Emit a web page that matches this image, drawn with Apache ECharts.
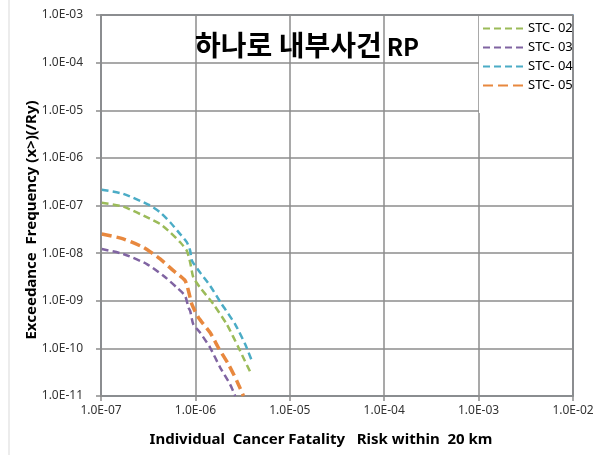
<!DOCTYPE html>
<html>
<head>
<meta charset="utf-8">
<script src="https://cdn.jsdelivr.net/npm/echarts@6/dist/echarts.min.js"></script>
<style>
  html, body { margin: 0; padding: 0; background: #fff; }
  #chart { width: 604px; height: 455px; }
</style>
</head>
<body>
<div id="chart"></div>
<script>
// series names
var seriesNames = ['STC- 02', 'STC- 03', 'STC- 04', 'STC- 05'];

// risk (x) and exceedance frequency (y)
var stc02X = [1.02e-7, 1.72e-7, 3.31e-7, 4.23e-7, 5.4e-7, 6.9e-7, 8.1e-7, 8.8e-7, 9.5e-7, 1.12e-6, 1.55e-6, 2.15e-6, 2.86e-6, 3.9e-6];
var stc02Y = [1.14e-7, 9.5e-8, 5.25e-8, 4.1e-8, 2.74e-8, 1.69e-8, 1.13e-8, 6.4e-9, 3.1e-9, 1.9e-9, 8.5e-10, 3.2e-10, 1.04e-10, 2.9e-11];

var stc03X = [1.02e-7, 1.72e-7, 3.06e-7, 4.58e-7, 6.35e-7, 7.78e-7, 8.44e-7, 8.8e-7, 9.5e-7, 1.12e-6, 1.43e-6, 1.83e-6, 2.33e-6, 2.64e-6];
var stc03Y = [1.22e-8, 9.6e-9, 5.9e-9, 3.36e-9, 1.9e-9, 1.27e-9, 7.2e-10, 6.15e-10, 3.2e-10, 2.15e-10, 1.04e-10, 3.95e-11, 1.76e-11, 1.0e-11];

var stc04X = [1.02e-7, 1.72e-7, 3.31e-7, 4.23e-7, 5.4e-7, 6.9e-7, 8.1e-7, 8.8e-7, 9.2e-7, 1.12e-6, 1.43e-6, 1.9e-6, 2.64e-6, 3.37e-6, 3.96e-6];
var stc04Y = [2.14e-7, 1.76e-7, 1.0e-7, 7.2e-8, 4.45e-8, 2.5e-8, 1.7e-8, 1.13e-8, 6.95e-9, 3.94e-9, 2.07e-9, 8.5e-10, 3.2e-10, 1.22e-10, 5.5e-11];

var stc05X = [1.02e-7, 1.72e-7, 2.81e-7, 4.23e-7, 5.85e-7, 7.78e-7, 8.44e-7, 9.16e-7, 1.076e-6, 1.43e-6, 1.75e-6, 2.24e-6, 2.75e-6, 3.23e-6];
var stc05Y = [2.53e-8, 1.99e-8, 1.32e-8, 7.55e-9, 4.28e-9, 2.64e-9, 1.62e-9, 8.5e-10, 4.45e-10, 2.15e-10, 1.04e-10, 4.65e-11, 2.07e-11, 1.0e-11];

var colors = ['#9BBB59', '#8064A2', '#4BACC6', '#E8883E'];

function pairs(xs, ys) {
    var out = [];
    for (var i = 0; i < xs.length; i++) out.push([xs[i], ys[i]]);
    return out;
}

function sciLabel(v) {
    var e = Math.round(Math.log10(v));
    var s = Math.abs(e) < 10 ? '0' + Math.abs(e) : '' + Math.abs(e);
    return '1.0E' + (e < 0 ? '-' : '+') + s;
}

var gridColor = '#8c8c8c';
var labelFont = 'Noto Sans';

var myChart = echarts.init(document.getElementById('chart'), null, { renderer: 'canvas' });

function lineSeries(name, data, color, width, dash) {
    return {
        name: name,
        type: 'line',
        data: data,
        showSymbol: false,
        symbol: 'none',
        smooth: 0.2,
        z: 3,
        lineStyle: { color: color, width: width, type: dash },
        itemStyle: { color: color }
    };
}

var option = {
    animation: false,
    backgroundColor: '#fff',
    title: {
        text: '{k|하나로 내부사건} {r|RP}',
        left: 190,
        top: 26,
        textStyle: {
            rich: {
                k: { fontFamily: 'Noto Sans CJK KR', fontSize: 28, fontWeight: 'bold', color: '#000' },
                r: { fontFamily: 'Noto Sans CJK KR', fontSize: 24, fontWeight: 'bold', color: '#000', padding: [3, 0, 0, 0] }
            }
        }
    },
    legend: {
        orient: 'vertical',
        left: 482,
        top: 22,
        itemWidth: 42,
        itemHeight: 12,
        itemGap: 6,
        padding: 0,
        itemStyle: { opacity: 0, borderWidth: 0 },
        textStyle: { fontFamily: labelFont, fontSize: 13, color: '#000', padding: [0, 0, 0, -2] },
        data: seriesNames
    },
    grid: {
        left: 101,
        right: 31,
        top: 15,
        bottom: 59,
        show: true,
        borderColor: '#4a7ebb',
        borderWidth: 1.5,
        backgroundColor: 'transparent'
    },
    xAxis: {
        type: 'log',
        logBase: 10,
        min: 1e-7,
        max: 1e-2,
        axisLine: { lineStyle: { color: gridColor, width: 1.5 } },
        axisTick: { show: true, inside: false, length: 5, lineStyle: { color: gridColor, width: 1.5 } },
        minorTick: { show: false },
        splitLine: { show: true, lineStyle: { color: gridColor, width: 1.5 } },
        axisLabel: { formatter: sciLabel, fontFamily: labelFont, fontSize: 12, color: '#333', margin: 9 }
    },
    yAxis: {
        type: 'log',
        logBase: 10,
        min: 1e-11,
        max: 1e-3,
        axisLine: { show: true, lineStyle: { color: gridColor, width: 1.5 } },
        axisTick: { show: true, inside: false, length: 5, lineStyle: { color: gridColor, width: 1.5 } },
        splitLine: { show: true, lineStyle: { color: gridColor, width: 1.5 } },
        axisLabel: { formatter: sciLabel, fontFamily: labelFont, fontSize: 12, color: '#333', margin: 18 }
    },
    graphic: [
        // thin outer frame line on the left
        { type: 'line', shape: { x1: 9, y1: 0, x2: 9, y2: 455 }, style: { stroke: '#d9d9d9', lineWidth: 1 }, z: 0 },
        // white box behind the legend
        { type: 'rect', shape: { x: 479, y: 16, width: 93, height: 97 }, style: { fill: '#fff' }, z: 1 },
        {
            type: 'text',
            x: 32, y: 220,
            rotation: Math.PI / 2,
            style: {
                text: 'Exceedance  Frequency (x>)(/Ry)',
                font: 'bold 15px "Noto Sans"',
                fill: '#000',
                textAlign: 'center',
                textVerticalAlign: 'middle'
            }
        },
        {
            type: 'text',
            x: 321, y: 440,
            style: {
                text: 'Individual  Cancer Fatality   Risk within  20 km',
                font: 'bold 15px "Noto Sans"',
                fill: '#000',
                textAlign: 'center',
                textVerticalAlign: 'middle'
            }
        }
    ],
    series: [
        lineSeries(seriesNames[0], pairs(stc02X, stc02Y), colors[0], 2.5, [7, 4]),
        lineSeries(seriesNames[1], pairs(stc03X, stc03Y), colors[1], 2.5, [7, 4]),
        lineSeries(seriesNames[2], pairs(stc04X, stc04Y), colors[2], 2.5, [7, 4]),
        lineSeries(seriesNames[3], pairs(stc05X, stc05Y), colors[3], 3.5, [10, 5])
    ]
};

myChart.setOption(option);
</script>
</body>
</html>
